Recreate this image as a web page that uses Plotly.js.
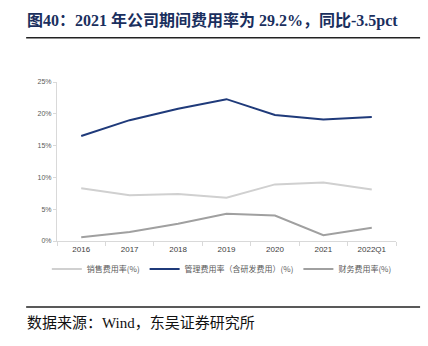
<!DOCTYPE html>
<html><head><meta charset="utf-8">
<script src="https://cdn.plot.ly/plotly-3.0.1.min.js"></script>
<style>html,body{margin:0;padding:0;background:#fff}</style>
</head><body>
<div id="chart" style="width:428px;height:346px"></div>
<script>
const categories = ['2016','2017','2018','2019','2020','2021','2022Q1'];
const salesRate = [8.3, 7.2, 7.4, 6.8, 8.9, 9.2, 8.1];
const mgmtRate = [16.5, 19.0, 20.8, 22.3, 19.8, 19.1, 19.5];
const finRate = [0.6, 1.4, 2.7, 4.3, 4.0, 0.9, 2.1];
const seriesNames = ['销售费用率(%)', '管理费用率（含研发费用）(%)', '财务费用率(%)'];
const yTicks = [0, 5, 10, 15, 20, 25];

const cjk = '"Noto Sans CJK SC", sans-serif';
const traces = [
  {x: categories, y: salesRate, name: seriesNames[0], type: 'scatter', mode: 'lines', line: {color: '#d0d0d0', width: 2}},
  {x: categories, y: mgmtRate, name: seriesNames[1], type: 'scatter', mode: 'lines', line: {color: '#1f3a7a', width: 2}},
  {x: categories, y: finRate, name: seriesNames[2], type: 'scatter', mode: 'lines', line: {color: '#a0a0a0', width: 2}}
];
const layout = {
  width: 428, height: 346,
  margin: {l: 57, r: 32, t: 82, b: 105},
  paper_bgcolor: '#fff', plot_bgcolor: '#fff',
  showlegend: true,
  legend: {orientation: 'h', x: -0.03, xanchor: 'left', y: -0.085, yanchor: 'top',
    font: {family: cjk, size: 8, color: '#595959'}, itemwidth: 30, tracegroupgap: 0},
  xaxis: {type: 'category', range: [-0.5, 6.5], showgrid: false, showline: true, linecolor: '#d9d9d9', linewidth: 1,
    ticks: 'outside', tickson: 'boundaries', ticklen: 4, tickcolor: '#d9d9d9',
    tickfont: {family: 'Arial, "Liberation Sans", sans-serif', size: 8, color: '#404040'}, zeroline: false, fixedrange: true},
  yaxis: {range: [0, 25], tickvals: yTicks, ticktext: yTicks.map(v => v + '%'), showgrid: false, showline: true,
    linecolor: '#d9d9d9', linewidth: 1, ticks: 'outside', ticklen: 3, tickcolor: '#d9d9d9',
    tickfont: {family: 'Arial, "Liberation Sans", sans-serif', size: 7, color: '#595959'}, zeroline: false, fixedrange: true},
  shapes: [
    {type: 'line', xref: 'paper', yref: 'paper', x0: -0.091, x1: 1.071, y0: 1.278, y1: 1.278, line: {color: '#222', width: 1.5}},
    {type: 'line', xref: 'paper', yref: 'paper', x0: -0.091, x1: 1.071, y0: -0.415, y1: -0.415, line: {color: '#222', width: 1.5}}
  ],
  annotations: [
    {xref: 'paper', yref: 'paper', x: -0.095, y: 1.385, xanchor: 'left', yanchor: 'middle', showarrow: false,
     text: '<b>图40：2021 年公司期间费用率为 29.2%，同比-3.5pct</b>',
     font: {family: '"Liberation Serif", "Noto Sans CJK SC", serif', size: 16, color: '#1a2f5e'}},
    {xref: 'paper', yref: 'paper', x: -0.095, y: -0.515, xanchor: 'left', yanchor: 'middle', showarrow: false,
     text: '数据来源：Wind，东吴证券研究所',
     font: {family: '"Liberation Serif", "Noto Sans CJK SC", serif', size: 15, color: '#111'}}
  ]
};
Plotly.newPlot('chart', traces, layout, {displayModeBar: false, staticPlot: true});
</script>
</body></html>
